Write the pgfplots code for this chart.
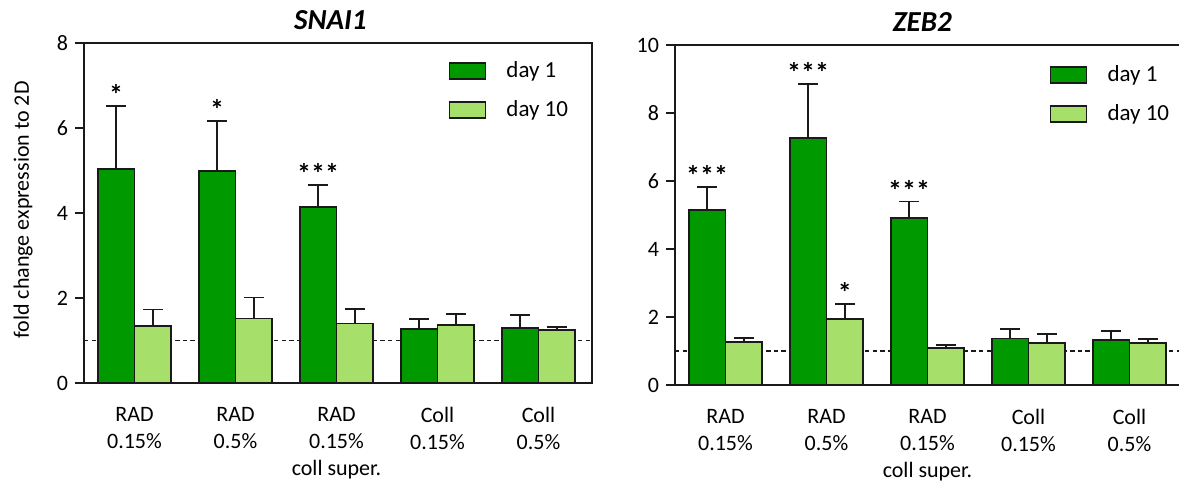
\documentclass[border=0pt]{standalone}
\usepackage{fontspec}
\setmainfont{Carlito}
\usepackage{pgfplots}
\pgfplotsset{compat=1.18}
\definecolor{dgreen}{RGB}{0,153,0}
\definecolor{lgreen}{RGB}{166,224,106}
\definecolor{edge}{RGB}{26,26,26}

\pgfplotsset{
  mybase/.style={
    scale only axis, height=170pt,
    ybar, bar width=0.365,
    xmin=-0.5, ymin=0,
    axis line style={line width=1pt, edge},
    xtick={0,1,2,3,4},
    xticklabels={{RAD\\0.15\%},{RAD\\0.5\%},{RAD\\0.15\%\\coll super.},{Coll\\0.15\%},{Coll\\0.5\%}},
    xticklabel style={align=center, font=\fontsize{11}{13.5}\selectfont, yshift=-4pt},
    x tick style={draw=none},
    ytick pos=left, tick align=outside,
    major tick length=4.5pt,
    y tick style={line width=1pt, edge},
    yticklabel style={font=\fontsize{11}{13}\selectfont},
    /pgf/number format/assume math mode=true,
    title style={font=\fontsize{14.5}{17}\selectfont\bfseries\itshape, at={(rel axis cs:0.485,1)}, anchor=south, yshift=-3pt},
    legend style={draw=none, fill=none, font=\fontsize{11.5}{14}\selectfont, anchor=north west, row sep=6pt},
    legend cell align=left,
  },
  errs/.style={
    error bars/y dir=plus, error bars/y explicit,
    error bars/error bar style={line width=0.9pt, edge, solid},
    error bars/error mark options={rotate=90, edge, line width=0.9pt, mark size=5pt, solid}},
  bd1/.style={bar shift=-0.1825, fill=dgreen, draw=edge, line width=0.9pt, errs,
    legend image code/.code={\draw[fill=dgreen, draw=edge, line width=0.9pt] (0pt,-4pt) rectangle (18pt,4pt); \path[draw=none, fill=none] (18pt,0pt) -- (26.5pt,0pt);}},
  bd10/.style={bar shift=0.1825, fill=lgreen, draw=edge, line width=0.9pt, errs,
    legend image code/.code={\draw[fill=lgreen, draw=edge, line width=0.9pt] (0pt,-4pt) rectangle (18pt,4pt); \path[draw=none, fill=none] (18pt,0pt) -- (26.5pt,0pt);}},
  stars/.style={bar shift=#1, draw=none, fill=none, forget plot,
    nodes near coords, point meta=explicit symbolic,
    every node near coord/.append style={font=\fontsize{14}{17}\selectfont\bfseries, inner sep=0.5pt, anchor=south, text=black}},
  refline/.style={sharp plot, mark=none, dash pattern=on 2.2pt off 1.6pt, line width=0.6pt, edge, forget plot},
}

\begin{document}
\begin{tikzpicture}
\useasboundingbox (0,0) rectangle (589.5pt,242pt);

\begin{axis}[mybase, at={(42pt,50.5pt)}, anchor=south west,
  width=254pt, xmax=4.53, ymax=8, ytick={0,2,4,6,8},
  title={SNAI1},
  legend style={at={(rel axis cs:0.705,0.97)}},
  ylabel={fold change expression to 2D},
  ylabel style={at={(rel axis cs:-0.12,0.509)}, anchor=center, rotate=0, font=\fontsize{11}{13}\selectfont},
]
\addplot[refline] coordinates {(-0.5,1) (4.53,1)};
\addplot[bd1] coordinates {(0,5.04) +- (0,1.48) (1,4.99) +- (0,1.18) (2,4.14) +- (0,0.52) (3,1.28) +- (0,0.22) (4,1.30) +- (0,0.30)};
\addlegendentry{day 1}
\addplot[bd10] coordinates {(0,1.35) +- (0,0.38) (1,1.52) +- (0,0.49) (2,1.40) +- (0,0.35) (3,1.37) +- (0,0.25) (4,1.25) +- (0,0.07)};
\addlegendentry{day 10}
\addplot[stars=-0.1825] coordinates {(0,6.52) [*] (1,6.17) [*] (2,4.66) [***]};
\end{axis}

\begin{axis}[mybase, at={(337.5pt,49.5pt)}, anchor=south west,
  width=255pt, xmax=4.55, ymax=10, ytick={0,2,4,6,8,10},
  title={ZEB2},
  legend style={at={(rel axis cs:0.722,0.965)}},
]
\addplot[refline] coordinates {(-0.5,1) (4.55,1)};
\addplot[bd1] coordinates {(0,5.15) +- (0,0.67) (1,7.26) +- (0,1.59) (2,4.92) +- (0,0.48) (3,1.37) +- (0,0.28) (4,1.33) +- (0,0.27)};
\addlegendentry{day 1}
\addplot[bd10] coordinates {(0,1.26) +- (0,0.12) (1,1.94) +- (0,0.44) (2,1.10) +- (0,0.08) (3,1.24) +- (0,0.26) (4,1.24) +- (0,0.11)};
\addlegendentry{day 10}
\addplot[stars=-0.1825] coordinates {(0,5.82) [***] (1,8.85) [***] (2,5.40) [***]};
\addplot[stars=0.1825] coordinates {(1,2.38) [*]};
\end{axis}
\end{tikzpicture}
\end{document}
